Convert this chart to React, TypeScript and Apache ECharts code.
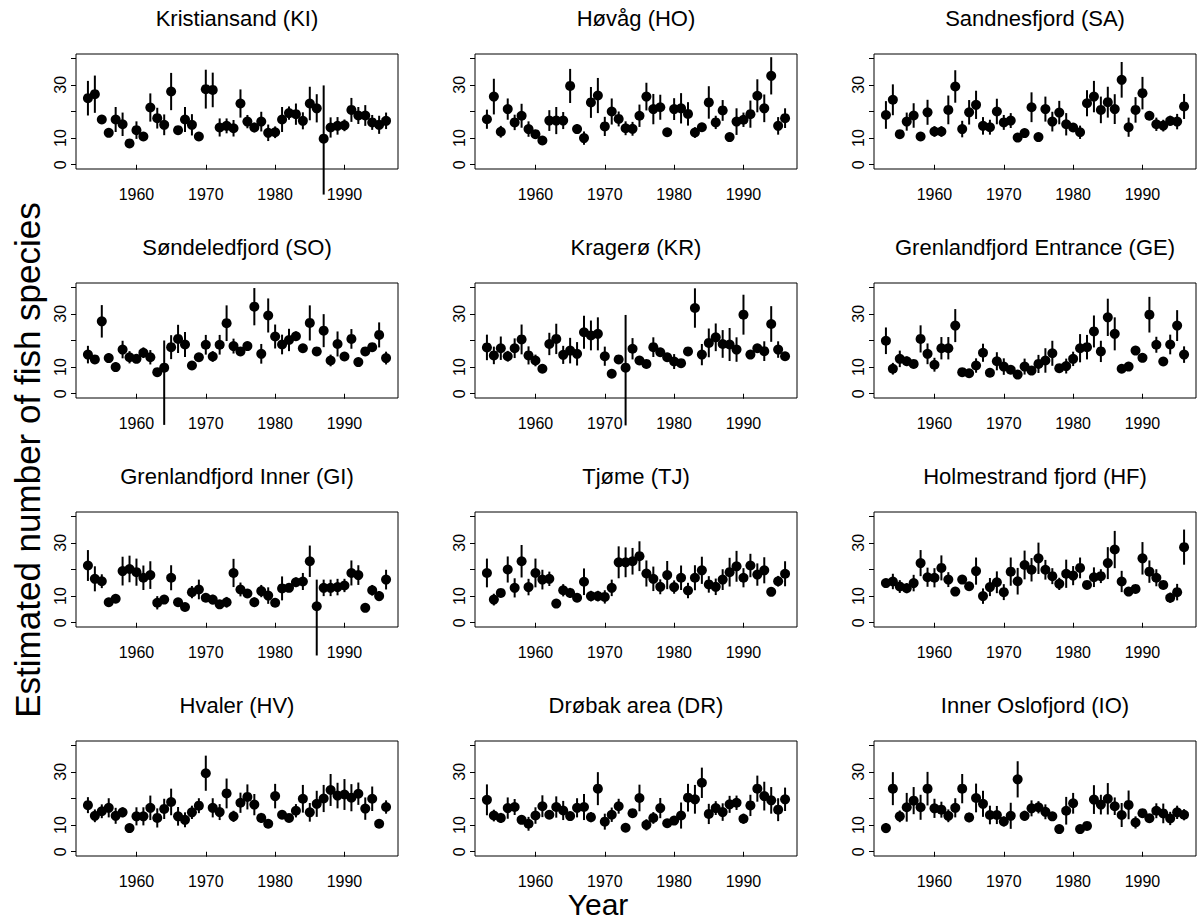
import React, { useEffect, useRef } from "react";
import * as echarts from "echarts";

const FONT = "'Liberation Sans', Arial, Helvetica, sans-serif";

const YEARS = [
  1953, 1954, 1955, 1956, 1957, 1958, 1959, 1960, 1961, 1962, 1963, 1964, 1965, 1966, 1967,
  1968, 1969, 1970, 1971, 1972, 1973, 1974, 1975, 1976, 1977, 1978, 1979, 1980, 1981, 1982,
  1983, 1984, 1985, 1986, 1987, 1988, 1989, 1990, 1991, 1992, 1993, 1994, 1995, 1996,
];

const X_TICKS = [1960, 1970, 1980, 1990];
const Y_TICKS = [0, 10, 20, 30, 40];
const Y_LABELS = [0, 10, 30];

// estimated number of species (val) and error half-widths (err: symmetric, or [down, up])
const KI_VAL = [25, 26.5, 17, 12, 17, 15.2, 8, 13, 10.6, 21.5, 17.5, 15, 27.5, 13, 17, 15, 10.6, 28.4, 28.1, 14, 14.6, 13.7, 23, 16.2, 14, 16.2, 12, 12.2, 17, 19.4, 19, 16.5, 23, 21.2, 9.8, 14, 14.6, 14.8, 20.6, 18.5, 18.5, 15.9, 15, 16.5];
const KI_ERR = [6.5, 7, 1, 1.5, 4.7, 4.4, 1, 3.3, 1.2, 5.3, 3.9, 3.9, 7, 1.5, 4.7, 4, 1, 7.3, 6.5, 3.4, 2.8, 3.1, 5.3, 2.5, 1.8, 3.7, 3.1, 2.2, 4.7, 2.5, 4, 3.2, 6.3, 5.3, [21, 20], 3.8, 3.3, 2.2, 4.5, 3.2, 3.9, 2.8, 3.4, 3.1];

const HO_VAL = [17.1, 25.6, 12.4, 20.9, 15.9, 18.4, 13.4, 11.5, 9.1, 16.6, 16.6, 16.6, 29.6, 13.4, 10, 23.4, 26, 14.4, 20, 17.2, 13.7, 13.5, 18.4, 25.6, 20.9, 21.6, 12.2, 20.9, 21.2, 19.1, 12.1, 14.1, 23.4, 15.9, 20.4, 10.4, 16.2, 16.9, 19, 25.9, 21.2, 33.4, 14.6, 17.5];
const HO_ERR = [3.6, 6.7, 2.2, 4, 2.9, 4.5, 2.9, 1, 1, 3.9, 5.1, 3.2, 6.4, 1.8, 2.5, 5.8, 6.6, 3.6, 4.9, 2.8, 2.6, 2.6, 4.2, 5.2, 5.7, 4.7, 1, 4.1, 5.7, 4.4, 2, 1.6, 6.1, 2.5, 3.9, 1, 5, 2.7, 5.1, 6.2, 5.2, 7, 3.3, 3.7];

const SA_VAL = [18.7, 24.4, 11.5, 16.2, 18.5, 10.6, 19.7, 12.5, 12.5, 20.6, 29.4, 13.4, 19.7, 22.5, 14.6, 14.1, 20, 15.9, 16.6, 10.2, 11.9, 21.6, 10.4, 20.9, 16.2, 19.6, 15.2, 14, 12.2, 23.1, 25.6, 20.6, 23.5, 20.9, 31.9, 14.1, 20.6, 26.9, 18.4, 15.2, 14.7, 16.5, 16.2, 21.9];
const SA_ERR = [5.2, 5.8, 1, 3.4, 4.6, 1, 4.7, 2, 2, 5.4, 6.1, 3.1, 4.6, 5.3, 3.3, 2.8, 4.8, 2.8, 2.8, 1, 1, 5.6, 1, 4.7, 3.7, 4.4, 4.2, 1.6, 2.5, 4.9, 5.9, 5, 5.8, 5.6, 6.7, 3.6, 4.8, 6.1, 1.5, 2.5, 2.2, 1.9, 2.9, 4.7];

const SO_VAL = [14.7, 12.9, 27.2, 13.4, 10, 16.6, 13.7, 13.1, 15.4, 13.7, 8.1, 9.8, 17.5, 20.6, 18.5, 10.6, 13.7, 18.4, 14, 18.4, 26.5, 17.9, 15.9, 17.9, 32.7, 15, 29.4, 21.5, 18.5, 20.2, 21.6, 17.1, 26.6, 15.9, 23.7, 12.5, 18.7, 14, 20.6, 11.9, 15.9, 17.5, 22.1, 13.4];
const SO_ERR = [3.3, 1.5, 6.1, 1.8, 1.8, 3.3, 2.3, 1, 2, 2.7, 1, [21.5, 10.2], 4.5, 5.3, 4.7, 1, 1.5, 3.7, 2, 3.7, 6.7, 2.8, 1, 1, 7, 3.7, 6.4, 4.5, 3.7, 4.2, 1.8, 1.5, 6.6, 1, 6.2, 2.2, 4.7, 1.5, 3.7, 1.5, 1.5, 1, 4.7, 2.4];

const KR_VAL = [17.4, 14.4, 17.1, 14.1, 17.1, 20.4, 14.4, 12.5, 9.4, 18.7, 20.6, 14.6, 16.2, 15, 23.1, 21.9, 22.5, 14.1, 7.5, 12.9, 9.8, 16.9, 12.5, 11.2, 17.5, 15.6, 13.7, 12.1, 11.5, 15.9, 32.2, 14.7, 19.1, 21.2, 18.7, 18.5, 16.6, 29.7, 14.7, 17.1, 16, 26.2, 16.6, 14.1];
const KR_ERR = [4.8, 3.3, 4.4, 2, 3.7, 5.6, 3.4, 2.2, 1, 4.2, 5.7, 3.4, 4.8, 4.4, 6.2, 5.6, 6.2, 3.6, 1, 1.5, [21.7, 19.8], 4, 1, 1.5, 3.7, 1.5, 1.5, 2.8, 1, 1, 7.4, 4, 5.4, 5.2, 5.2, 6.2, 4.6, 7.5, 1, 1.5, 3.7, 6.7, 3.1, 1.5];

const GE_VAL = [19.9, 9.4, 13.1, 12.2, 11.2, 20.6, 15, 10.9, 17.1, 17.1, 25.6, 8.1, 7.7, 10.6, 15.4, 7.9, 12.2, 10.2, 9, 7.2, 10.2, 8.7, 11.2, 12.5, 15.2, 9.6, 10.4, 13.1, 17.1, 17.5, 23.4, 15.9, 28.7, 22.5, 9.4, 10.2, 16.2, 13.5, 29.7, 18.4, 12.1, 18.5, 25.6, 14.7];
const GE_ERR = [5, 2.2, 3.1, 1.8, 1.5, 5.1, 3.9, 2.6, 4.2, 4.2, 6.2, 1, 1, 2.7, 3.4, 1.5, 3.4, 3.1, 1.5, 1, 3, 1.5, 3.4, 4.6, 4.7, 1.5, 2.8, 2.7, 5.3, 4.6, 6, 4, 7, 6.2, 1, 1.5, 1, 1.5, 6.7, 3, 1, 3.7, 5.8, 3.1];

const GI_VAL = [21.5, 16.5, 15.6, 7.7, 9, 19.4, 20.2, 19, 16.9, 17.9, 7.5, 8.7, 16.9, 7.7, 5.9, 11.5, 12.5, 9.4, 8.7, 6.9, 7.7, 18.7, 12.5, 11, 7.7, 11.9, 10.2, 7.5, 12.9, 13.1, 15.2, 15.5, 23.1, 6.2, 13.1, 13.1, 13.4, 14, 18.7, 17.9, 5.6, 12.2, 10, 16.2];
const GI_ERR = [5.8, 4.7, 2.6, 1, 1.5, 5.4, 5, 5.1, 4.6, 5.2, 2.5, 1.5, 4.7, 1.5, 1, 2.3, 3.7, 1.5, 1.8, 1.5, 2, 5.3, 2.6, 1, 1.8, 2.3, 3.1, 1.5, 4.5, 1.5, 1.8, 3.2, 5.9, [18.5, 10], 3.1, 3.1, 3.1, 2.5, 4.7, 3.7, 1, 2, 1.9, 3.7];

const TJ_VAL = [18.7, 8.7, 11.2, 20, 13.1, 23.1, 13.4, 18.7, 16.2, 16.5, 7.2, 12.2, 11.2, 9.4, 15.4, 10, 10, 9.7, 13.1, 22.7, 22.7, 23.1, 25, 18.5, 16.5, 13.5, 17.9, 13.4, 16.9, 12.1, 16.9, 19.7, 14.4, 13.5, 16.2, 19, 21.2, 16.9, 21.5, 18.1, 19.7, 11.6, 15.6, 18.4];
const TJ_ERR = [5.4, 2.2, 1, 4.9, 3.6, 6.1, 3.1, 5.4, 3.7, 2.7, 1, 2.3, 1.9, 1, 5, 2, 2, 2.5, 3.1, 6, 5.6, 5, 5.6, 4.9, 4.6, 2.8, 5.3, 2.5, 4.6, 2.9, 4.7, 5.1, 3.1, 3.1, 3.9, 5.4, 5.8, 3.6, 4.4, 4.2, 4.9, 1, 2, 4.7];

const HF_VAL = [14.9, 15.5, 13.6, 13, 14.9, 22.4, 17.1, 16.9, 20.6, 16.2, 11.7, 16.2, 13.7, 19.4, 10, 13.4, 15.2, 11.5, 19.2, 15.6, 21.7, 19.9, 24.2, 19.9, 17.5, 14.6, 18.4, 17.7, 20.6, 14.2, 17.1, 17.5, 22.4, 27.5, 15.5, 11.7, 12.7, 24.2, 19.2, 16.9, 14.2, 9.4, 11.5, 28.4];
const HF_ERR = [1, 2.9, 2.4, 1.9, 3.1, 4.9, 3.6, 3.6, 4.7, 2.8, 1, 1, 1, 5.1, 2.9, 3.4, 4.1, 3, 5.3, 5, 5.4, 4.4, 5.9, 3.7, 3, 2.3, 5.3, 3.6, 3.9, 1.5, 3.7, 2.6, 6, 7, 4, 1.7, 1, 6.1, 4.2, 3.2, 1, 1.9, 3.1, 6.6];

const HV_VAL = [17.5, 13.5, 15.2, 16.5, 13.5, 14.8, 8.9, 13.3, 13.3, 16.5, 12.7, 16.1, 18.7, 13.3, 12, 14.8, 17.3, 29.5, 16.5, 14.9, 21.9, 13.3, 18.4, 20.6, 17.7, 12.7, 10.5, 20.9, 13.9, 12.7, 15.4, 19.9, 14.8, 18, 20, 23.2, 21.1, 21.5, 20.3, 21.8, 16.2, 19.9, 10.5, 16.8];
const HV_ERR = [3, 2.4, 2.6, 3.6, 3, 1.9, 1, 3.4, 3.4, 4.6, 3.6, 3.8, 5, 3.5, 2.8, 2.5, 2.8, 6.6, 3.6, 3, 5.6, 2.1, 3.8, 4.7, 4, 1.9, 1, 4.6, 1, 1, 2.5, 5.2, 3.5, 4.9, 5.1, 6, 4.8, 5.8, 5.1, 4.2, 4.2, 4.6, 1, 2.5];

const DR_VAL = [19.5, 13.6, 12.7, 16.4, 16.8, 12, 10.5, 13.6, 17.1, 13.9, 16.8, 15.5, 13.4, 16.5, 16.8, 13, 23.7, 11.3, 13.9, 17.1, 9, 14.5, 20.2, 10.1, 12.7, 16.4, 10.7, 11.7, 13.6, 20.3, 19.7, 25.9, 14.2, 16.4, 14.9, 17.8, 18.4, 12.4, 17.4, 23.7, 20.9, 19.3, 15.8, 19.7];
const DR_ERR = [5.8, 2.2, 1.9, 4, 3, 1, 2.6, 3.1, 4.1, 1, 4, 3.6, 1.5, 3.6, 4.9, 1.9, 6.2, 3, 2.7, 2.8, 1, 1, 5, 2.1, 2.2, 3.8, 1, 1, 4.9, 5.2, 5.4, 5.7, 3.8, 2.6, 3.3, 3.2, 2.7, 1.9, 4, 4.9, 5.4, 5, 4.3, 4.4];

const IO_VAL = [8.9, 23.7, 13.3, 16.7, 19.2, 16.7, 23.7, 16.3, 15.8, 13.5, 16.5, 23.7, 12.9, 20.2, 18, 13.8, 13.8, 11.4, 13.5, 27.2, 13.5, 16.3, 16.7, 15, 13.3, 8.5, 15.4, 18.2, 8.5, 9.7, 19.6, 17.7, 19.9, 17.1, 13.8, 17.6, 11, 14.5, 12.6, 15.4, 14.4, 12.5, 14.8, 13.9];
const IO_ERR = [1.9, 6.2, 2.2, 5.4, 5.1, 4.7, 6.3, 3.6, 3, 2.4, 3.6, 5.5, 1.8, 5.4, 4.9, 3.5, 3.4, 1.9, 4.9, 6.8, 1.9, 3, 2.3, 2.8, 1.5, 1, 5.2, 3.9, 1, 1, 5.4, 3.7, 5.9, 3.3, 4.5, 5.4, 2.3, 1.5, 1.5, 2.8, 3.7, 2.5, 2.5, 2.1];

const PANELS: { title: string; val: number[]; err: (number | number[])[] }[] = [
  { title: "Kristiansand (KI)", val: KI_VAL, err: KI_ERR },
  { title: "Høvåg (HO)", val: HO_VAL, err: HO_ERR },
  { title: "Sandnesfjord (SA)", val: SA_VAL, err: SA_ERR },
  { title: "Søndeledfjord (SO)", val: SO_VAL, err: SO_ERR },
  { title: "Kragerø (KR)", val: KR_VAL, err: KR_ERR },
  { title: "Grenlandfjord Entrance (GE)", val: GE_VAL, err: GE_ERR },
  { title: "Grenlandfjord Inner (GI)", val: GI_VAL, err: GI_ERR },
  { title: "Tjøme (TJ)", val: TJ_VAL, err: TJ_ERR },
  { title: "Holmestrand fjord (HF)", val: HF_VAL, err: HF_ERR },
  { title: "Hvaler (HV)", val: HV_VAL, err: HV_ERR },
  { title: "Drøbak area (DR)", val: DR_VAL, err: DR_ERR },
  { title: "Inner Oslofjord (IO)", val: IO_VAL, err: IO_ERR },
];

const X_MIN = 1951.28;
const X_MAX = 1997.72;
const Y_MIN = -1.6;
const Y_MAX = 41.6;

const COL_LEFT = [76, 475, 874];
const GRID_W = 322;
const ROW_TOP = 54;
const ROW_STEP = 229;
const GRID_H = 115;

export default function App() {
  const ref = useRef<HTMLDivElement>(null);

  useEffect(() => {
    const chart = echarts.init(ref.current as HTMLDivElement, null, { renderer: "svg" });
    const grids: any[] = [];
    const xAxes: any[] = [];
    const yAxes: any[] = [];
    const series: any[] = [];
    const graphics: any[] = [];

    PANELS.forEach((p, i) => {
      const c = i % 3;
      const r = Math.floor(i / 3);
      const top = ROW_TOP + r * ROW_STEP;
      grids.push({
        left: COL_LEFT[c],
        top,
        width: GRID_W,
        height: GRID_H,
        show: true,
        borderColor: "#000",
        borderWidth: 1,
        backgroundColor: "transparent",
        containLabel: false,
      });
      xAxes.push({
        type: "value",
        gridIndex: i,
        min: X_MIN,
        max: X_MAX,
        axisLine: { show: false },
        splitLine: { show: false },
        axisTick: { show: true, customValues: X_TICKS, length: 5, lineStyle: { color: "#000", width: 1 } },
        axisLabel: {
          show: true,
          customValues: X_TICKS,
          formatter: (v: number) => String(v),
          fontSize: 16,
          lineHeight: 16,
          color: "#000",
          margin: 17,
          fontFamily: FONT,
        },
      });
      yAxes.push({
        type: "value",
        gridIndex: i,
        min: Y_MIN,
        max: Y_MAX,
        axisLine: { show: false },
        splitLine: { show: false },
        axisTick: { show: true, customValues: Y_TICKS, length: 5, lineStyle: { color: "#000", width: 1 } },
        axisLabel: {
          show: true,
          customValues: Y_LABELS,
          formatter: (v: number) => String(v),
          rotate: 90,
          fontSize: 16,
          color: "#000",
          margin: 8,
          fontFamily: FONT,
        },
      });
      const barData = YEARS.map((y, k) => {
        const v = p.val[k];
        const e = p.err[k];
        const dn = Array.isArray(e) ? e[0] : e;
        const up = Array.isArray(e) ? e[1] : e;
        return [y, v, v - dn, v + up];
      });
      series.push({
        type: "custom",
        xAxisIndex: i,
        yAxisIndex: i,
        data: barData,
        clip: false,
        silent: true,
        encode: { x: 0, y: [1, 2, 3] },
        renderItem: (_params: any, api: any) => {
          const x = api.value(0);
          const a = api.coord([x, api.value(2)]);
          const b = api.coord([x, api.value(3)]);
          return {
            type: "line",
            shape: { x1: a[0], y1: a[1], x2: b[0], y2: b[1] },
            style: { stroke: "#000", lineWidth: 2 },
          };
        },
      });
      series.push({
        type: "scatter",
        xAxisIndex: i,
        yAxisIndex: i,
        data: YEARS.map((y, k) => [y, p.val[k]]),
        symbol: "circle",
        symbolSize: 10,
        itemStyle: { color: "#000", opacity: 1 },
        silent: true,
      });
      graphics.push({
        type: "text",
        x: COL_LEFT[c] + GRID_W / 2,
        y: top - 36,
        style: {
          text: p.title,
          fontSize: 22,
          fontFamily: FONT,
          fill: "#000",
          textAlign: "center",
          textVerticalAlign: "middle",
        },
      });
    });

    graphics.push({
      type: "text",
      x: 598,
      y: 904,
      style: {
        text: "Year",
        fontSize: 30,
        lineHeight: 26,
        fontFamily: FONT,
        fill: "#000",
        textAlign: "center",
        textVerticalAlign: "middle",
      },
    });
    graphics.push({
      type: "text",
      x: 27,
      y: 460,
      rotation: Math.PI / 2,
      style: {
        text: "Estimated number of fish species",
        fontSize: 35,
        fontFamily: FONT,
        fill: "#000",
        textAlign: "center",
        textVerticalAlign: "middle",
      },
    });

    chart.setOption({
      animation: false,
      backgroundColor: "#fff",
      grid: grids,
      xAxis: xAxes,
      yAxis: yAxes,
      series,
      graphic: graphics,
    });

    return () => {
      chart.dispose();
    };
  }, []);

  return (
    <div
      ref={ref}
      style={{ position: "absolute", left: 0, top: 0, width: 1199, height: 922, background: "#fff" }}
    />
  );
}
